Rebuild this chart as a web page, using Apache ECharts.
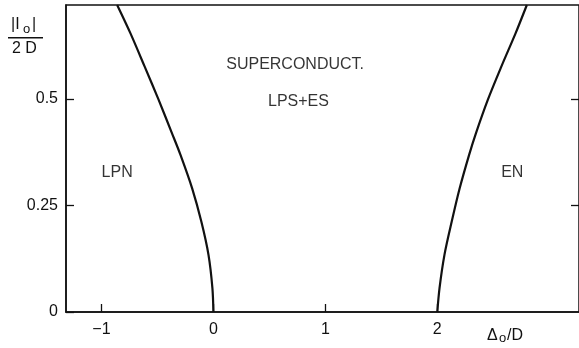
<!DOCTYPE html>
<html>
<head>
<meta charset="utf-8">
<script src="https://cdn.jsdelivr.net/npm/echarts@6/dist/echarts.min.js"></script>
<style>
  html, body { margin: 0; padding: 0; background: #fff; }
  #chart { width: 579px; height: 348px; }
</style>
</head>
<body>
<div id="chart"></div>
<script>
// Reduced coupling |I0|/2D sampled along both phase boundaries
const couplingLevels = [0, 0.056, 0.134, 0.212, 0.29, 0.369, 0.419, 0.498, 0.576, 0.654, 0.72];
// Δ0/D on the LPN / superconducting boundary
const lpnBoundary = [0, -0.009, -0.044, -0.108, -0.19, -0.295, -0.37, -0.49, -0.615, -0.742, -0.86];
// Δ0/D on the superconducting / EN boundary
const enBoundary = [2.0, 2.02, 2.064, 2.129, 2.20, 2.285, 2.345, 2.452, 2.573, 2.70, 2.80];

// Axis ticks
const xTicks = [-1, 0, 1, 2];
const yTicks = [0, 0.25, 0.5];
const yTickLabels = ['0', '0.25', '0.5'];

// Phase region names and where they sit (Δ0/D, |I0|/2D)
const regionNames = ['SUPERCONDUCT.', 'LPS+ES', 'LPN', 'EN'];
const regionX = [0.73, 0.76, -0.86, 2.67];
const regionY = [0.58, 0.493, 0.326, 0.326];

const INK = '#111';
const FONT = 'Liberation Sans, Arial, sans-serif';

const chart = echarts.init(document.getElementById('chart'), null, { renderer: 'canvas' });

const pairs = (xs, ys) => xs.map((x, i) => [x, ys[i]]);

chart.setOption({
  animation: false,
  backgroundColor: '#fff',
  grid: {
    left: 66, top: 5, right: -3, bottom: 36,
    show: true, borderColor: INK, borderWidth: 1.5, backgroundColor: 'transparent'
  },
  xAxis: {
    type: 'value', min: -1.317, max: 3.266,
    axisLine: { show: true, onZero: false, lineStyle: { color: INK, width: 1.5 } },
    axisTick: { show: true, inside: true, length: 8, customValues: xTicks, lineStyle: { color: INK, width: 1.3 } },
    axisLabel: { customValues: xTicks, color: INK, fontFamily: FONT, fontSize: 16, margin: 10,
      formatter: v => (v < 0 ? '\u2212' + Math.abs(v) : String(v)) },
    splitLine: { show: false }
  },
  yAxis: [{
    type: 'value', min: 0, max: 0.72,
    axisLine: { show: true, onZero: false, lineStyle: { color: INK, width: 1.5 } },
    axisTick: { show: true, inside: true, length: 8, customValues: yTicks, lineStyle: { color: INK, width: 1.3 } },
    axisLabel: { customValues: yTicks, color: INK, fontFamily: FONT, fontSize: 16, margin: 8,
      formatter: v => yTickLabels[yTicks.indexOf(v)] ?? String(v) },
    splitLine: { show: false }
  }, {
    type: 'value', min: 0, max: 0.72, position: 'right',
    axisLine: { show: false, onZero: false },
    axisTick: { show: true, inside: true, length: 8, customValues: [0.25, 0.5], lineStyle: { color: INK, width: 1.3 } },
    axisLabel: { show: false },
    splitLine: { show: false }
  }],
  series: [
    {
      type: 'line', data: pairs(lpnBoundary, couplingLevels), smooth: 0.3,
      symbol: 'none', lineStyle: { color: INK, width: 2.2 }
    },
    {
      type: 'line', data: pairs(enBoundary, couplingLevels), smooth: 0.3,
      symbol: 'none', lineStyle: { color: INK, width: 2.2 }
    },
    {
      type: 'scatter', symbolSize: 1, itemStyle: { color: 'transparent' },
      data: regionNames.map((n, i) => ({ name: n, value: [regionX[i], regionY[i]] })),
      label: { show: true, position: 'inside', formatter: p => p.name,
        color: '#000', fontFamily: FONT, fontSize: 16 },
      silent: true
    }
  ],
  graphic: [
    // y-axis title: |I0| over 2D
    { type: 'text', left: 11, top: 17, style: { text: '|I', font: '16px ' + FONT, fill: INK } },
    { type: 'text', left: 23, top: 23, style: { text: 'o', font: '13px ' + FONT, fill: INK } },
    { type: 'text', left: 32, top: 17, style: { text: '|', font: '16px ' + FONT, fill: INK } },
    { type: 'rect', shape: { x: 8, y: 37, width: 35, height: 1.5 }, style: { fill: INK } },
    { type: 'text', left: 12, top: 41, style: { text: '2 D', font: '16px ' + FONT, fill: INK } },
    // x-axis title: Δ0/D
    { type: 'text', left: 487, top: 328, style: { text: '\u0394', font: '16px ' + FONT, fill: INK } },
    { type: 'text', left: 499, top: 332, style: { text: 'o', font: '13px ' + FONT, fill: INK } },
    { type: 'text', left: 507, top: 328, style: { text: '/D', font: '16px ' + FONT, fill: INK } }
  ]
});
</script>
</body>
</html>
